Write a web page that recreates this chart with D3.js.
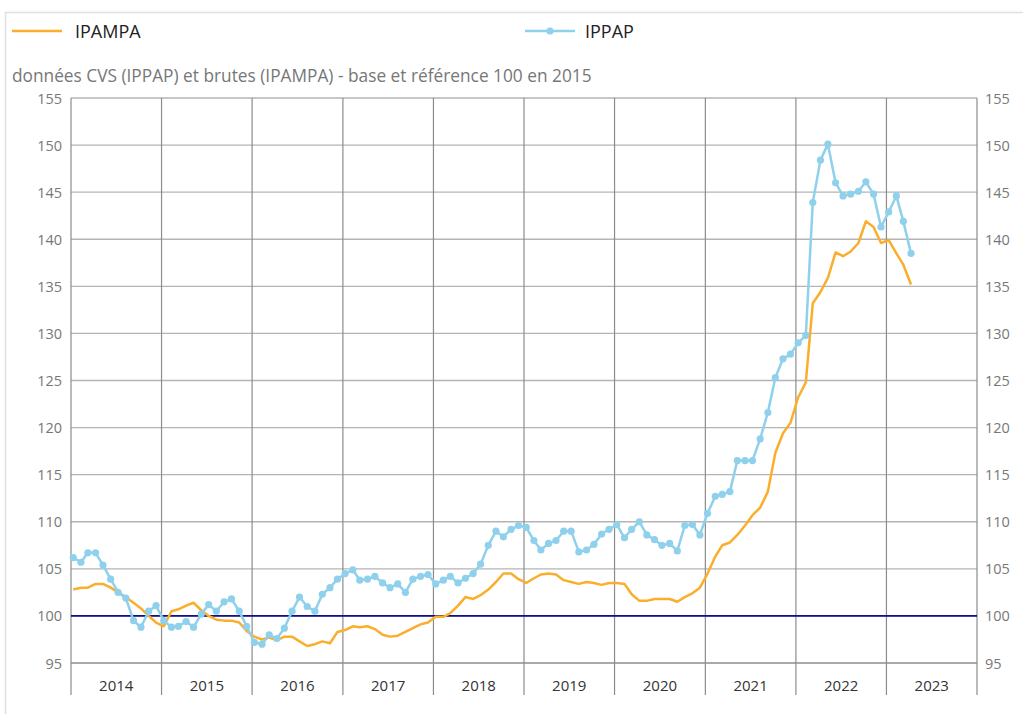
<!DOCTYPE html>
<html>
<head>
<meta charset="utf-8">
<script src="https://cdn.jsdelivr.net/npm/d3@7"></script>
<style>
  body { margin: 0; background: #fff; font-family: "Open Sans", sans-serif; }
  svg { display: block; }
</style>
</head>
<body>
<svg id="chart" width="1023" height="714"></svg>
<script>
// Monthly series, starting January 2014
const years = [2014, 2015, 2016, 2017, 2018, 2019, 2020, 2021, 2022, 2023];
const yTicks = [95, 100, 105, 110, 115, 120, 125, 130, 135, 140, 145, 150, 155];

const ipampa = [
  102.8, 103.0, 103.0, 103.4, 103.4, 103.0, 102.5, 102.0, 101.4, 100.8, 100.0, 99.3,
  98.9, 100.5, 100.7, 101.1, 101.4, 100.6, 100.0, 99.6, 99.5, 99.5, 99.3, 98.4,
  97.8, 97.5, 97.7, 97.4, 97.8, 97.8, 97.3, 96.8, 97.0, 97.3, 97.1, 98.3,
  98.5, 98.9, 98.8, 98.9, 98.6, 98.0, 97.8, 97.9, 98.3, 98.7, 99.1, 99.3,
  99.9, 99.9, 100.3, 101.1, 102.0, 101.8, 102.2, 102.8, 103.6, 104.5, 104.5, 103.9,
  103.5, 104.0, 104.4, 104.5, 104.4, 103.8, 103.6, 103.4, 103.6, 103.5, 103.3, 103.5,
  103.5, 103.4, 102.3, 101.6, 101.6, 101.8, 101.8, 101.8, 101.5, 102.0, 102.4, 103.0,
  104.5, 106.3, 107.5, 107.8, 108.6, 109.6, 110.7, 111.5, 113.2, 117.3, 119.4, 120.5,
  123.2, 124.8, 133.2, 134.4, 135.9, 138.6, 138.2, 138.7, 139.6, 141.9, 141.3, 139.6,
  139.9, 138.5, 137.3, 135.2
];

const ippap = [
  106.2, 105.7, 106.7, 106.7, 105.4, 103.9, 102.5, 101.9, 99.5, 98.8, 100.5, 101.1,
  99.5, 98.8, 98.9, 99.4, 98.8, 100.2, 101.2, 100.5, 101.5, 101.8, 100.5, 98.9,
  97.2, 97.0, 98.0, 97.6, 98.7, 100.5, 102.0, 101.0, 100.5, 102.3, 103.0, 103.9,
  104.5, 104.9, 103.8, 103.9, 104.2, 103.5, 103.0, 103.4, 102.5, 103.9, 104.2, 104.4,
  103.4, 103.8, 104.2, 103.5, 104.0, 104.5, 105.5, 107.5, 109.0, 108.4, 109.2, 109.6,
  109.4, 108.0, 107.0, 107.7, 108.0, 109.0, 109.0, 106.8, 107.0, 107.6, 108.7, 109.2,
  109.7, 108.3, 109.2, 110.0, 108.6, 108.1, 107.5, 107.7, 106.9, 109.6, 109.7, 108.6,
  110.9, 112.7, 112.9, 113.2, 116.5, 116.5, 116.5, 118.8, 121.6, 125.3, 127.3, 127.8,
  129.0, 129.8, 143.9, 148.4, 150.1, 146.0, 144.6, 144.8, 145.1, 146.1, 144.8, 141.3,
  142.9, 144.6, 141.9, 138.5
];

const colorIpampa = "#fbae2c";
const colorIppap = "#8fd1ec";
const subtitle = "données CVS (IPPAP) et brutes (IPAMPA) - base et référence 100 en 2015";

const svg = d3.select("#chart");
const plot = { left: 71, right: 977, top: 98, bottom: 663 };

// card border
svg.append("path")
  .attr("d", "M5.5,714 V12.5 H1023")
  .attr("fill", "none")
  .attr("stroke", "#e0e0e0")
  .attr("stroke-width", 1.5);

const x = d3.scaleTime()
  .domain([new Date(2014, 0, 1), new Date(2024, 0, 1)])
  .range([plot.left, plot.right]);

const y = d3.scaleLinear()
  .domain([95, 155])
  .range([plot.bottom, plot.top]);

const dateOf = i => new Date(2014, i, 10);

// horizontal grid
svg.append("g")
  .selectAll("line")
  .data(yTicks)
  .join("line")
  .attr("x1", plot.left).attr("x2", plot.right)
  .attr("y1", d => y(d)).attr("y2", d => y(d))
  .attr("stroke", d => d === 95 ? "#8c8c8c" : "#b4b4b4")
  .attr("stroke-width", 1.3);

// year dividers
const yearEdges = years.concat([2024]);
svg.append("g")
  .selectAll("line")
  .data(yearEdges)
  .join("line")
  .attr("x1", d => x(new Date(d, 0, 1))).attr("x2", d => x(new Date(d, 0, 1)))
  .attr("y1", plot.top).attr("y2", 695)
  .attr("stroke", "#8c8c8c")
  .attr("stroke-width", 1.2);

// reference line at 100
svg.append("line")
  .attr("x1", plot.left).attr("x2", plot.right)
  .attr("y1", y(100)).attr("y2", y(100))
  .attr("stroke", "#10108a")
  .attr("stroke-width", 1.6);

// y labels, left and right
const labelStyle = sel => sel
  .attr("font-size", 14.5)
  .attr("fill", "#777")
  .attr("dominant-baseline", "central");

svg.append("g").selectAll("text")
  .data(yTicks).join("text")
  .attr("x", 62).attr("y", d => y(d))
  .attr("text-anchor", "end")
  .text(d => d)
  .call(labelStyle);

svg.append("g").selectAll("text")
  .data(yTicks).join("text")
  .attr("x", 985).attr("y", d => y(d))
  .attr("text-anchor", "start")
  .text(d => d)
  .call(labelStyle);

// year labels
svg.append("g").selectAll("text")
  .data(years).join("text")
  .attr("x", d => (x(new Date(d, 0, 1)) + x(new Date(d + 1, 0, 1))) / 2)
  .attr("y", 685)
  .attr("text-anchor", "middle")
  .attr("dominant-baseline", "central")
  .attr("font-size", 15)
  .attr("fill", "#333")
  .text(d => d);

// series
const line = d3.line()
  .x((d, i) => x(dateOf(i)))
  .y(d => y(d));

svg.append("path")
  .datum(ipampa)
  .attr("fill", "none")
  .attr("stroke", colorIpampa)
  .attr("stroke-width", 2.5)
  .attr("stroke-linejoin", "round")
  .attr("d", line);

svg.append("path")
  .datum(ippap)
  .attr("fill", "none")
  .attr("stroke", colorIppap)
  .attr("stroke-width", 2.5)
  .attr("stroke-linejoin", "round")
  .attr("d", line);

svg.append("g").selectAll("circle")
  .data(ippap).join("circle")
  .attr("cx", (d, i) => x(dateOf(i)))
  .attr("cy", d => y(d))
  .attr("r", 3.6)
  .attr("fill", colorIppap);

// legend
const legend = svg.append("g");
legend.append("line")
  .attr("x1", 12).attr("x2", 62).attr("y1", 31).attr("y2", 31)
  .attr("stroke", colorIpampa).attr("stroke-width", 2.5);
legend.append("text")
  .attr("x", 75).attr("y", 31)
  .attr("dominant-baseline", "central")
  .attr("font-size", 18).attr("fill", "#222")
  .text("IPAMPA");

legend.append("line")
  .attr("x1", 525).attr("x2", 575).attr("y1", 31).attr("y2", 31)
  .attr("stroke", colorIppap).attr("stroke-width", 2.5);
legend.append("circle")
  .attr("cx", 550).attr("cy", 31).attr("r", 3.6)
  .attr("fill", colorIppap);
legend.append("text")
  .attr("x", 585).attr("y", 31)
  .attr("dominant-baseline", "central")
  .attr("font-size", 18).attr("fill", "#222")
  .text("IPPAP");

// subtitle
svg.append("text")
  .attr("x", 12).attr("y", 75)
  .attr("dominant-baseline", "central")
  .attr("font-size", 17.3)
  .attr("fill", "#777")
  .text(subtitle);
</script>
</body>
</html>
